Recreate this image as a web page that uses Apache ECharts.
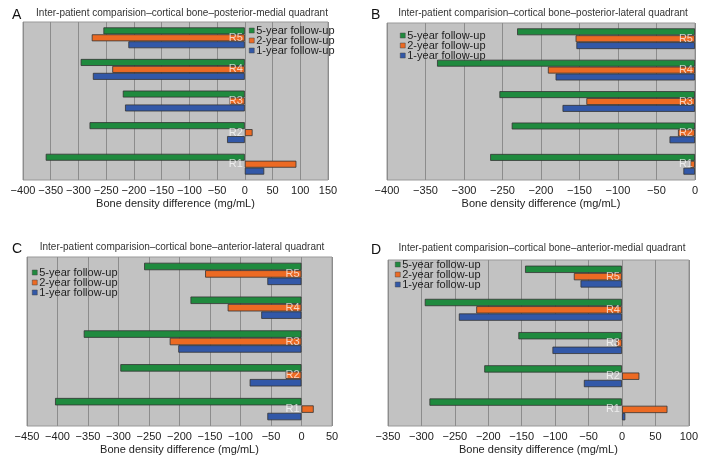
<!DOCTYPE html>
<html>
<head>
<meta charset="utf-8">
<script src="https://cdn.jsdelivr.net/npm/echarts@6/dist/echarts.min.js"></script>
<style>
  html, body { margin: 0; padding: 0; background: #fff; }
  #chart { width: 701px; height: 456px; }
</style>
</head>
<body>
<div id="chart"></div>
<script>
// categories (bottom to top)
const regions = ['R1', 'R2', 'R3', 'R4', 'R5']
const seriesNames = ['5-year follow-up', '2-year follow-up', '1-year follow-up']

// A: posterior-medial
const a5yr = [-359, -280, -220, -296, -255]
const a2yr = [93, 14, -28, -239, -276]
const a1yr = [35, -32, -216, -274, -210]
// B: posterior-lateral
const b5yr = [-266, -238, -254, -335, -231]
const b2yr = [-6, -22, -141, -191, -155]
const b1yr = [-15, -33, -172, -181, -154]
// C: anterior-lateral
const c5yr = [-404, -297, -357, -182, -258]
const c2yr = [20, -26, -216, -121, -158]
const c1yr = [-56, -85, -202, -66, -56]
// D: anterior-medial
const d5yr = [-288, -206, -155, -295, -145]
const d2yr = [68, 26, -8, -218, -72]
const d1yr = [5, -57, -104, -244, -62]

const panelTitles = [
  'Inter-patient comparision\u2013cortical bone\u2013posterior-medial quadrant',
  'Inter-patient comparision\u2013cortical bone\u2013posterior-lateral quadrant',
  'Inter-patient comparision\u2013cortical bone\u2013anterior-lateral quadrant',
  'Inter-patient comparision\u2013cortical bone\u2013anterior-medial quadrant'
]
const panelLetters = ['A', 'B', 'C', 'D']
const xRanges = [[-400, 150], [-400, 0], [-450, 50], [-350, 100]]

const colors = ['#1f8a3e', '#ec6a23', '#3258a8']
const font = 'Liberation Sans, Arial, sans-serif'

// panel boxes in pixels
const grids = [
  { left: 23, top: 22, width: 305, height: 158 },
  { left: 387, top: 23, width: 310, height: 157 },
  { left: 27, top: 257, width: 305, height: 173 },
  { left: 388, top: 260, width: 304, height: 166 }
]
const titlePos = [[177, 3, 7, 3], [538, 3, 366, 3], [177, 237, 7, 237], [537, 238, 366, 238]]
const legendPos = [
  { left: 249, top: 25 },
  { left: 400, top: 30 },
  { left: 32, top: 267 },
  { left: 395, top: 259 }
]
const data = [[a5yr, a2yr, a1yr], [b5yr, b2yr, b1yr], [c5yr, c2yr, c1yr], [d5yr, d2yr, d1yr]]

const option = {
  animation: false,
  backgroundColor: '#fff',
  title: [],
  legend: [],
  grid: [],
  xAxis: [],
  yAxis: [],
  series: []
}

grids.forEach((g, i) => {
  option.title.push({
    text: panelTitles[i], left: titlePos[i][0], top: titlePos[i][1], textAlign: 'center',
    textStyle: { fontFamily: font, fontSize: 10, fontWeight: 'normal', color: '#333' }
  })
  option.title.push({
    text: panelLetters[i], left: titlePos[i][2], top: titlePos[i][3],
    textStyle: { fontFamily: font, fontSize: 14, fontWeight: 'normal', color: '#111' }
  })
  option.legend.push({
    data: seriesNames, orient: 'vertical', left: legendPos[i].left, top: legendPos[i].top,
    itemWidth: 5, itemHeight: 5, itemGap: -1, padding: 0,
    icon: 'rect',
    itemStyle: { borderColor: '#444', borderWidth: 0.5 },
    textStyle: { fontFamily: font, fontSize: 11, color: '#222', lineHeight: 10, padding: [0, 0, 0, -3] }
  })
  option.grid.push(Object.assign({
    show: true, backgroundColor: '#c2c2c2', borderColor: '#999', borderWidth: 1
  }, g))
  option.xAxis.push({
    type: 'value', gridIndex: i, min: xRanges[i][0], max: xRanges[i][1], interval: 50,
    name: 'Bone density difference (mg/mL)', nameLocation: 'middle', nameGap: 18,
    nameTextStyle: { fontFamily: font, fontSize: 11, color: '#222' },
    axisLine: { show: false }, axisTick: { show: false },
    splitLine: { show: true, lineStyle: { color: '#8c8c8c', width: 1 } },
    axisLabel: {
      margin: 5, fontFamily: font, fontSize: 11, color: '#222',
      formatter: v => String(v).replace('-', '\u2212')
    }
  })
  option.yAxis.push({
    type: 'category', gridIndex: i, data: regions,
    axisLine: { show: false }, axisTick: { show: false }, axisLabel: { show: false }
  })
  data[i].forEach((vals, s) => {
    option.series.push({
      type: 'bar', name: seriesNames[s], xAxisIndex: i, yAxisIndex: i,
      data: vals, barGap: 0, barCategoryGap: '34%',
      itemStyle: { color: colors[s], borderColor: '#333', borderWidth: 0.8 }
    })
  })
  // region names sit just left of the zero line
  option.series.push({
    type: 'scatter', name: 'regions', xAxisIndex: i, yAxisIndex: i, z: 5,
    symbolSize: 0, silent: true,
    data: regions.map(r => ({ value: [0, r], name: r })),
    label: {
      show: true, position: 'left', distance: 2, formatter: '{b}',
      fontFamily: font, fontSize: 11, color: 'rgba(255,255,255,0.88)'
    }
  })
})

let myChart = echarts.init(document.getElementById('chart'))
myChart.setOption(option)
</script>
</body>
</html>
